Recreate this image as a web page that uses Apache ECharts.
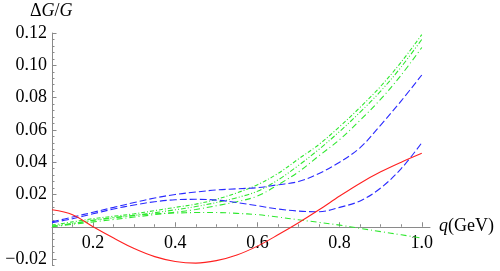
<!DOCTYPE html>
<html><head><meta charset="utf-8">
<script src="https://cdn.jsdelivr.net/npm/echarts@6/dist/echarts.min.js"></script>
<style>html,body{margin:0;padding:0;background:#fff}#c{width:500px;height:271px}</style>
</head><body><div id="c"></div>
<script>
const q = [0.1,0.15,0.2,0.25,0.3,0.35,0.4,0.45,0.5,0.55,0.6,0.65,0.7,0.75,0.8,0.85,0.9,0.95,1.0];
const red = [0.0105,0.0075,0.0,-0.007,-0.0135,-0.0185,-0.0215,-0.0225,-0.021,-0.0175,-0.012,-0.005,0.0025,0.0105,0.019,0.027,0.034,0.040,0.0455];
const blueUpper = [0.003,0.006,0.009,0.012,0.015,0.0178,0.020,0.0215,0.0228,0.0235,0.0242,0.026,0.028,0.033,0.040,0.049,0.063,0.078,0.094];
const blueLower = [0.0025,0.005,0.008,0.011,0.0135,0.0155,0.0167,0.017,0.0165,0.015,0.013,0.011,0.0097,0.0093,0.012,0.016,0.024,0.036,0.052];
const green1 = [0.001,0.003,0.005,0.0065,0.008,0.010,0.012,0.014,0.017,0.021,0.026,0.033,0.042,0.051,0.062,0.074,0.087,0.102,0.119];
const green2 = [0.0005,0.002,0.004,0.0055,0.007,0.0087,0.0105,0.0125,0.015,0.018,0.022,0.029,0.038,0.048,0.059,0.071,0.084,0.099,0.116];
const green3 = [0.0,0.0015,0.003,0.0045,0.006,0.0075,0.009,0.0107,0.013,0.0155,0.019,0.026,0.034,0.044,0.054,0.066,0.079,0.094,0.111];
const green4 = [0.0,0.002,0.004,0.0057,0.007,0.008,0.0085,0.0088,0.0088,0.0083,0.0075,0.006,0.0043,0.0027,0.001,-0.001,-0.003,-0.005,-0.007];
const xLabels = [0.2,0.4,0.6,0.8,1.0];
const xMinorTicks = [0.15,0.25,0.3,0.35,0.45,0.5,0.55,0.65,0.7,0.75,0.85,0.9,0.95];
const yLabels = [-0.02,0.02,0.04,0.06,0.08,0.10,0.12];
const yMajorTicks = [-0.02,0.02,0.04,0.06,0.08,0.10,0.12];
const yMinorTicks = [];
for (let k = -6; k <= 30; k++) { if (k % 5 !== 0) yMinorTicks.push(+(k*0.004).toFixed(3)); }

const pairs = arr => q.map((x,i)=>[x, arr[i]]);
const font = 'Liberation Serif';
const axisGray = '#8a8a8a';
const chart = echarts.init(document.getElementById('c'));
function line(data, color, type, z) {
  return {type:'line', data:pairs(data), showSymbol:false, smooth:0.35, z:z||2,
    lineStyle:{color:color, width:1.1, type:type}, xAxisIndex:0, yAxisIndex:0};
}
const blue = '#2a2aff', green = '#2fe82f';
const richStyles = {
  i:{fontFamily:font, fontStyle:'italic', fontWeight:'normal', fontSize:18, color:'#000'},
  n:{fontFamily:font, fontWeight:'normal', fontSize:18, color:'#000'}
};
chart.setOption({
  animation:false,
  title:{text:'{n|\u0394}{i|G}{n|/}{i|G}', left:30, top:2, padding:0,
    textStyle:{fontWeight:'normal', fontFamily:font, fontSize:18, rich:richStyles}},
  grid:{left:52, top:33, width:378, height:232.5, containLabel:false, outerBoundsMode:'none'},
  xAxis:[{
    type:'value', min:0.1, max:1.02,
    axisLine:{onZero:true, lineStyle:{color:axisGray, width:1}},
    axisTick:{show:true, inside:true, length:2.5, customValues:xMinorTicks, lineStyle:{color:axisGray}},
    axisLabel:{customValues:xLabels, formatter:v=>v.toFixed(1), color:'#000', fontFamily:font, fontSize:18, margin:-31},
    splitLine:{show:false},
    name:'{i|q}{n|(GeV)}', nameLocation:'end', nameGap:9, nameMoveOverlap:false,
    nameTextStyle:{rich:richStyles}
  },{
    type:'value', min:0.1, max:1.02, position:'bottom',
    axisLine:{show:false, onZero:true, onZeroAxisIndex:0},
    axisTick:{show:true, inside:true, length:4.5, customValues:xLabels, lineStyle:{color:axisGray}},
    axisLabel:{show:false}, splitLine:{show:false}
  }],
  yAxis:[{
    type:'value', min:-0.024, max:0.12,
    axisLine:{show:true, onZero:false, lineStyle:{color:axisGray, width:1}},
    axisTick:{show:true, inside:true, length:2.5, customValues:yMinorTicks, lineStyle:{color:axisGray}},
    axisLabel:{customValues:yLabels, formatter:v=>(v<0?'\u2212':'')+Math.abs(v).toFixed(2), color:'#000', fontFamily:font, fontSize:18, margin:5},
    splitLine:{show:false}
  },{
    type:'value', min:-0.024, max:0.12, position:'left',
    axisLine:{show:false, onZero:false},
    axisTick:{show:true, inside:true, length:4.5, customValues:yMajorTicks, lineStyle:{color:axisGray}},
    axisLabel:{show:false}, splitLine:{show:false}
  }],
  series:[
    line(green1, green, [4,2,1,2]),
    line(green2, green, [5,2,1,2,1,2]),
    line(green3, green, [6,3,1,3]),
    line(green4, green, [6,3,1,3]),
    line(blueUpper, blue, [7,3]),
    line(blueLower, blue, [7,3]),
    line(red, '#ff2020', 'solid', 3)
  ]
});
</script></body></html>
